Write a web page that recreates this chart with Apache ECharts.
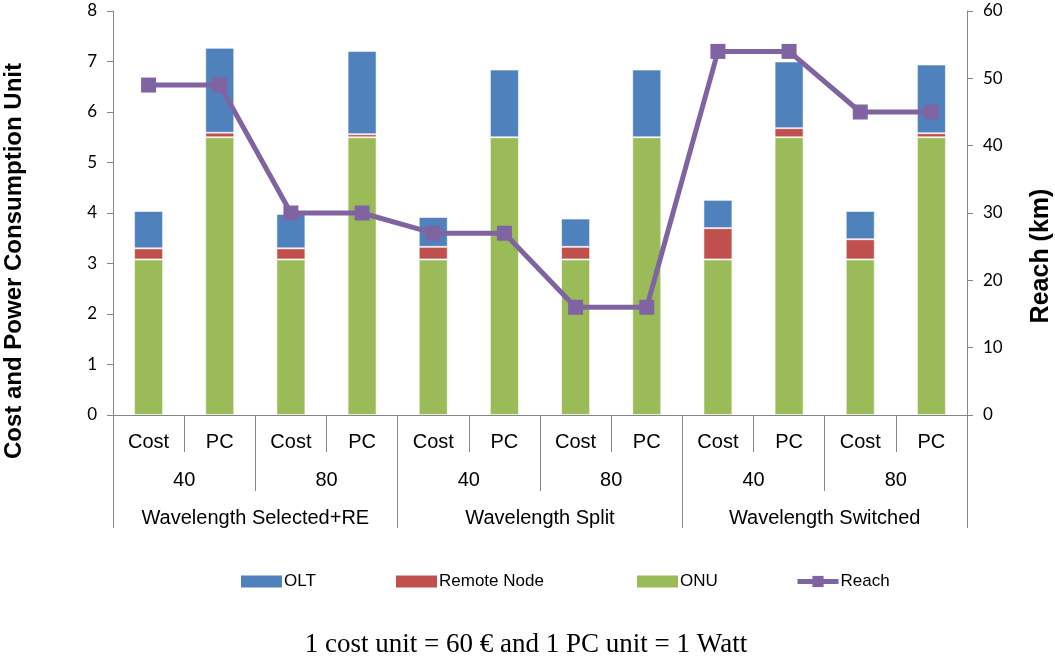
<!DOCTYPE html>
<html>
<head>
<meta charset="utf-8">
<script src="https://cdn.jsdelivr.net/npm/echarts@6/dist/echarts.min.js"></script>
<style>html,body{margin:0;padding:0;background:#fff;}#c{width:1055px;height:658px;}</style>
</head>
<body>
<div id="c"></div>
<script>
const level1 = ['Cost','PC','Cost','PC','Cost','PC','Cost','PC','Cost','PC','Cost','PC'];
const level2 = ['40','80','40','80','40','80'];
const level3 = ['Wavelength Selected+RE','Wavelength Split','Wavelength Switched'];
const onu = [3.08,5.5,3.08,5.5,3.08,5.5,3.08,5.5,3.08,5.5,3.08,5.5];
const remoteNode = [0.22,0.09,0.22,0.06,0.25,0,0.25,0,0.62,0.18,0.40,0.08];
const olt = [0.74,1.68,0.68,1.65,0.59,1.34,0.56,1.34,0.56,1.32,0.56,1.36];
const reach = [49,49,30,30,27,27,16,16,54,54,45,45];
const leftTicks = ['0','1','2','3','4','5','6','7','8'];
const rightTicks = ['0','10','20','30','40','50','60'];

const axisGray = '#868686';
const catFont = {fontFamily:'"Liberation Sans", Arial, sans-serif', fontSize:20, color:'#000'};
const tickFont = {fontFamily:'Lato, "Open Sans", sans-serif', fontSize:17, color:'#000'};
const barBorder = {borderColor:'rgba(255,255,255,0.55)', borderWidth:1};

const chart = echarts.init(document.getElementById('c'), null, {renderer:'canvas'});
function legendFor(name, left, isLine) {
  const l = {
    show:true, left:left, top:568, itemWidth:41, itemHeight:isLine ? 14 : 12, itemGap:0,
    textStyle:{fontFamily:'"Liberation Sans", Arial, sans-serif', fontSize:17, color:'#000', padding:[0,0,0,-3]},
    selectedMode:false
  };
  if (isLine) {
    l.data = [{name:name}];
    l.lineStyle = {width:5, color:'#8064A2'};
  } else {
    l.data = [{name:name, icon:'rect'}];
    l.itemStyle = {borderWidth:0};
  }
  return l;
}
chart.setOption({
  animation:false,
  grid:{left:113, right:88, top:11, bottom:243, containLabel:false},
  legend:[legendFor('OLT',236), legendFor('Remote Node',391), legendFor('ONU',632), legendFor('Reach',790,true)],
  xAxis:[
    {type:'category', data:level1, position:'bottom',
     axisLine:{show:true, lineStyle:{color:axisGray, width:1}},
     axisTick:{show:true, interval:0, length:37, lineStyle:{color:axisGray}},
     axisLabel:Object.assign({interval:0, margin:17}, catFont)},
    {type:'category', data:level2, position:'bottom',
     axisLine:{show:false},
     axisTick:{show:true, interval:0, length:76, lineStyle:{color:axisGray}},
     axisLabel:Object.assign({interval:0, margin:55}, catFont)},
    {type:'category', data:level3, position:'bottom',
     axisLine:{show:false},
     axisTick:{show:true, interval:0, length:113, lineStyle:{color:axisGray}},
     axisLabel:Object.assign({interval:0, margin:93}, catFont)}
  ],
  yAxis:[
    {type:'value', min:0, max:8, interval:1, position:'left',
     axisLine:{show:true, lineStyle:{color:axisGray}},
     axisTick:{show:true, length:6, lineStyle:{color:axisGray}},
     splitLine:{show:false},
     axisLabel:Object.assign({margin:16, formatter:function(v){return leftTicks[Math.round(v)];}}, tickFont)},
    {type:'value', min:0, max:60, interval:10, position:'right',
     axisLine:{show:true, lineStyle:{color:axisGray}},
     axisTick:{show:true, length:6, lineStyle:{color:axisGray}},
     splitLine:{show:false},
     axisLabel:Object.assign({margin:16, formatter:function(v){return rightTicks[Math.round(v/10)];}}, tickFont)}
  ],
  series:[
    {name:'ONU', type:'bar', stack:'s', data:onu, barWidth:29, itemStyle:Object.assign({color:'#9BBB59'}, barBorder)},
    {name:'Remote Node', type:'bar', stack:'s', data:remoteNode, barWidth:29, itemStyle:Object.assign({color:'#C0504D'}, barBorder)},
    {name:'OLT', type:'bar', stack:'s', data:olt, barWidth:29, itemStyle:Object.assign({color:'#4F81BD'}, barBorder)},
    {name:'Reach', type:'line', yAxisIndex:1, data:reach, symbol:'rect', symbolSize:15,
     lineStyle:{color:'#8064A2', width:5}, itemStyle:{color:'#8064A2'}, z:5}
  ],
  graphic:[
    {type:'text', x:14, y:261, rotation:Math.PI/2,
     style:{text:'Cost and Power Consumption Unit', font:'bold 24px "Liberation Sans", Arial, sans-serif', fill:'#000', textAlign:'center', textVerticalAlign:'middle', verticalAlign:'middle'}},
    {type:'text', x:1041, y:256, rotation:Math.PI/2,
     style:{text:'Reach (km)', font:'bold 25px "Liberation Sans", Arial, sans-serif', fill:'#000', textAlign:'center', textVerticalAlign:'middle', verticalAlign:'middle'}},
    {type:'text', x:526, y:645,
     style:{text:'1 cost unit = 60 € and 1 PC unit = 1 Watt', font:'27px "Liberation Serif", "Times New Roman", serif', fill:'#000', textAlign:'center', textVerticalAlign:'middle', verticalAlign:'middle'}}
  ]
});
</script>
</body>
</html>
